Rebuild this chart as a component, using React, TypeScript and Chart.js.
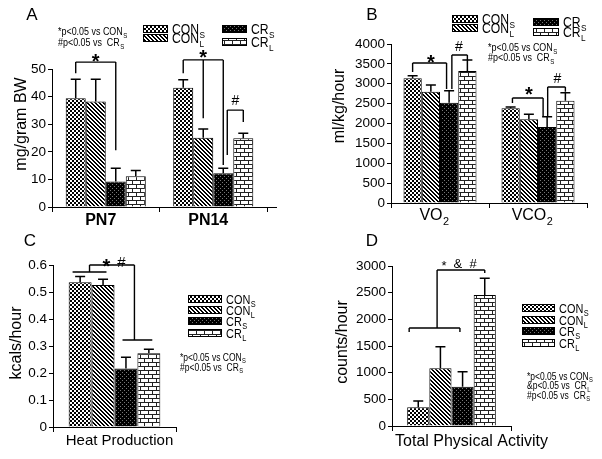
import React, { useEffect, useRef } from 'react';
import { Chart, registerables } from 'chart.js';

Chart.register(...registerables);

const FONT = "'Liberation Sans', Arial, Helvetica, sans-serif";

// ---------- series (legend) ----------
const SERIES_MAIN = ['CON', 'CON', 'CR', 'CR'];
const SERIES_SUB = ['S', 'L', 'S', 'L'];

// ---------- Panel A ----------
const A_CATEGORIES = ['PN7', 'PN14'];
const A_CON_S = [39.4, 43.2];
const A_CON_L = [38.2, 25.1];
const A_CR_S = [9.2, 12.2];
const A_CR_L = [11.1, 24.9];
const A_SEM_CON_S = [6.9, 2.9];
const A_SEM_CON_L = [8.1, 3.2];
const A_SEM_CR_S = [4.8, 1.8];
const A_SEM_CR_L = [2.1, 1.8];
const A_Y_TICKS = [0, 10, 20, 30, 40, 50];
// brackets: [category, barPos1, value1, barPos2, value2]
const A_BRACKETS = [
  [0, 0, 48.5, 0, 52.5], [0, 0, 52.5, 2, 52.5], [0, 2, 52.5, 2, 20.6],
  [1, 0, 48.5, 0, 53.3], [1, 0, 53.3, 2, 53.3], [1, 1, 53.3, 1, 32.2], [1, 2, 53.3, 2, 15.2],
  [1, 2.2, 18.8, 2.2, 35.1], [1, 2.2, 35.1, 3, 35.1], [1, 3, 35.1, 3, 30.8],
];
const A_MARKS: [number, number, number, string][] = [
  [0, 1, 54.3, '*'], [1, 1, 55.8, '*'], [1, 2.6, 38.8, '#'],
];

// ---------- Panel B ----------
const B_CATEGORIES = ['VO', 'VCO'];
const B_CATEGORY_SUB = '2';
const B_CON_S = [3137, 2382];
const B_CON_L = [2800, 2105];
const B_CR_S = [2523, 1912];
const B_CR_L = [3321, 2574];
const B_SEM_CON_S = [66, 30];
const B_SEM_CON_L = [169, 126];
const B_SEM_CR_S = [303, 260];
const B_SEM_CR_L = [276, 201];
const B_Y_TICKS = [0, 500, 1000, 1500, 2000, 2500, 3000, 3500, 4000];
const B_BRACKETS = [
  [0, 0, 3296, 0, 3522], [0, 0, 3522, 1.86, 3522], [0, 1.86, 3522, 1.86, 2870],
  [0, 2.15, 2870, 2.15, 3723], [0, 2.15, 3723, 3, 3723], [0, 3, 3723, 3, 3600],
  [1, 0.1, 2516, 0.1, 2641], [1, 0.1, 2641, 1.78, 2641], [1, 1.78, 2641, 1.78, 2180],
  [1, 2.03, 2180, 2.03, 2918], [1, 2.03, 2918, 3, 2918], [1, 3, 2918, 3, 2800],
];
const B_MARKS: [number, number, number, string][] = [
  [0, 1.0, 3648, '*'], [0, 2.53, 3950, '#'], [1, 1.0, 2843, '*'], [1, 2.56, 3145, '#'],
];

// ---------- Panel C ----------
const C_CATEGORIES = ['Heat Production'];
const C_CON_S = [0.536];
const C_CON_L = [0.526];
const C_CR_S = [0.217];
const C_CR_L = [0.273];
const C_SEM_CON_S = [0.021];
const C_SEM_CON_L = [0.021];
const C_SEM_CR_S = [0.041];
const C_SEM_CR_L = [0.015];
const C_Y_TICKS = [0, 0.1, 0.2, 0.3, 0.4, 0.5, 0.6];
const C_BRACKETS = [
  [0, -0.33, 0.574, 1.15, 0.574], [0, 0.41, 0.574, 0.41, 0.6], [0, 0.41, 0.6, 2.37, 0.6],
  [0, 2.37, 0.6, 2.37, 0.322], [0, 1.85, 0.322, 3.15, 0.322],
];
const C_MARKS: [number, number, number, string][] = [
  [0, 1.15, 0.611, '*'], [0, 1.8, 0.611, '#'],
];

// ---------- Panel D ----------
const D_CATEGORIES = ['Total Physical Activity'];
const D_CON_S = [350];
const D_CON_L = [1082];
const D_CR_S = [737];
const D_CR_L = [2456];
const D_SEM_CON_S = [119];
const D_SEM_CON_L = [405];
const D_SEM_CR_S = [281];
const D_SEM_CR_L = [313];
const D_Y_TICKS = [0, 500, 1000, 1500, 2000, 2500, 3000];
const D_BRACKETS = [
  [0, 0.85, 2925, 3, 2925], [0, 3, 2925, 3, 2870], [0, 0.85, 2925, 0.85, 1838],
  [0, -0.41, 1838, 1.88, 1838], [0, -0.41, 1838, -0.41, 1763], [0, 1.88, 1838, 1.88, 1763],
];
const D_MARKS: [number, number, number, string][] = [
  [0, 1.16, 3056, '*'], [0, 1.79, 3056, '&'], [0, 2.47, 3056, '#'],
];

interface Panel {
  left: number; top: number; width: number; height: number;
  area: [number, number, number, number];
  categories: string[]; catSub: string; catWeight: string; catSize: number; catDx: number; catY: number;
  values: number[][]; sems: number[][]; yTicks: number[];
  yTitle: string; yTitlePos: [number, number]; yTitleSize: number;
  letter: string; letterPos: [number, number];
  brackets: number[][]; marks: [number, number, number, string][]; starSize: number; markSize: number;
  legend: [number, number, number][]; legendBox: [number, number]; legendSize: number;
  stats: [string, string][]; statsPos: [number, number, number]; statsSize: number;
  axisExtend: number;
}

const PANELS: Panel[] = [
  {
    left: 0, top: 0, width: 300, height: 230, area: [52, 69, 267, 207],
    categories: A_CATEGORIES, catSub: '', catWeight: 'bold', catSize: 16, catDx: -5, catY: 219,
    values: [A_CON_S, A_CON_L, A_CR_S, A_CR_L], sems: [A_SEM_CON_S, A_SEM_CON_L, A_SEM_CR_S, A_SEM_CR_L],
    yTicks: A_Y_TICKS, yTitle: 'mg/gram BW', yTitlePos: [22, 124], yTitleSize: 16,
    letter: 'A', letterPos: [32, 15],
    brackets: A_BRACKETS, marks: A_MARKS, starSize: 20, markSize: 14,
    legend: [[0, 143, 25], [1, 143, 34], [2, 222, 25], [3, 222, 38]], legendBox: [25, 8], legendSize: 14.5,
    stats: [['*p<0.05 vs CON', 'S'], ['#p<0.05 vs  CR', 'S']], statsPos: [58, 31, 11], statsSize: 10.5,
    axisExtend: 10,
  },
  {
    left: 300, top: 0, width: 302, height: 230, area: [91, 44, 287, 203],
    categories: B_CATEGORIES, catSub: B_CATEGORY_SUB, catWeight: 'normal', catSize: 16, catDx: -6, catY: 214,
    values: [B_CON_S, B_CON_L, B_CR_S, B_CR_L], sems: [B_SEM_CON_S, B_SEM_CON_L, B_SEM_CR_S, B_SEM_CR_L],
    yTicks: B_Y_TICKS, yTitle: 'ml/kg/hour', yTitlePos: [40, 106], yTitleSize: 16,
    letter: 'B', letterPos: [72, 15],
    brackets: B_BRACKETS, marks: B_MARKS, starSize: 20, markSize: 14,
    legend: [[0, 152, 15], [1, 152, 24], [2, 233, 18], [3, 233, 28]], legendBox: [26, 8], legendSize: 14.5,
    stats: [['*p<0.05 vs CON', 'S'], ['#p<0.05 vs  CR', 'S']], statsPos: [188, 47, 10], statsSize: 10.5,
    axisExtend: 0,
  },
  {
    left: 0, top: 230, width: 300, height: 229, area: [53, 35, 176, 197],
    categories: C_CATEGORIES, catSub: '', catWeight: 'normal', catSize: 15, catDx: 5, catY: 210,
    values: [C_CON_S, C_CON_L, C_CR_S, C_CR_L], sems: [C_SEM_CON_S, C_SEM_CON_L, C_SEM_CR_S, C_SEM_CR_L],
    yTicks: C_Y_TICKS, yTitle: 'kcals/hour', yTitlePos: [17, 113], yTitleSize: 16,
    letter: 'C', letterPos: [30, 11],
    brackets: C_BRACKETS, marks: C_MARKS, starSize: 20, markSize: 15,
    legend: [[0, 188, 65], [1, 188, 76], [2, 188, 87], [3, 188, 99]], legendBox: [34, 8], legendSize: 13,
    stats: [['*p<0.05 vs CON', 'S'], ['#p<0.05 vs  CR', 'S']], statsPos: [180, 127, 10], statsSize: 10,
    axisExtend: 0,
  },
  {
    left: 300, top: 230, width: 302, height: 229, area: [92, 36, 211, 196],
    categories: D_CATEGORIES, catSub: '', catWeight: 'normal', catSize: 16, catDx: 20, catY: 210,
    values: [D_CON_S, D_CON_L, D_CR_S, D_CR_L], sems: [D_SEM_CON_S, D_SEM_CON_L, D_SEM_CR_S, D_SEM_CR_L],
    yTicks: D_Y_TICKS, yTitle: 'counts/hour', yTitlePos: [43, 112], yTitleSize: 16,
    letter: 'D', letterPos: [72, 11],
    brackets: D_BRACKETS, marks: D_MARKS, starSize: 13, markSize: 13,
    legend: [[0, 222, 74], [1, 222, 86], [2, 222, 97], [3, 222, 109]], legendBox: [33, 8], legendSize: 13,
    stats: [['*p<0.05 vs CON', 'S'], ['&p<0.05 vs  CR', 'L'], ['#p<0.05 vs  CR', 'S']], statsPos: [227, 146, 9.5], statsSize: 10,
    axisExtend: 0,
  },
];

function makePatterns(): CanvasPattern[] {
  const mk = (w: number, h: number, draw: (x: CanvasRenderingContext2D) => void) => {
    const c = document.createElement('canvas');
    c.width = w; c.height = h;
    const x = c.getContext('2d')!;
    x.fillStyle = '#fff'; x.fillRect(0, 0, w, h);
    draw(x);
    return x.createPattern(c, 'repeat')!;
  };
  const checker = mk(4, 4, (x) => { x.fillStyle = '#000'; x.fillRect(0, 0, 2, 2); x.fillRect(2, 2, 2, 2); });
  const stripes = mk(4, 4, (x) => {
    x.fillStyle = '#000';
    for (let i = 0; i < 4; i++) { x.fillRect(i, i, 1, 1); x.fillRect((i + 1) % 4, i, 1, 1); }
  });
  const dark = mk(4, 4, (x) => {
    x.fillStyle = '#000'; x.fillRect(0, 0, 4, 4);
    x.fillStyle = '#777'; x.fillRect(0, 0, 1, 1); x.fillRect(2, 2, 1, 1);
  });
  const brick = mk(8, 8, (x) => {
    x.fillStyle = '#222';
    x.fillRect(0, 0, 8, 1); x.fillRect(0, 4, 8, 1); x.fillRect(0, 0, 1, 4); x.fillRect(4, 4, 1, 4);
  });
  return [checker, stripes, dark, brick];
}

function subText(ctx: CanvasRenderingContext2D, x: number, base: number, main: string, sub: string,
  size: number, align: 'left' | 'center', cond: number, weight = 'normal', subDy = 0.28) {
  ctx.save();
  const mf = `${weight} ${size}px ${FONT}`;
  const sf = `${weight} ${size * 0.68}px ${FONT}`;
  ctx.font = mf;
  const mw = ctx.measureText(main).width;
  ctx.font = sf;
  const sw = sub ? ctx.measureText(sub).width : 0;
  const total = (mw + sw) * cond;
  const x0 = align === 'center' ? x - total / 2 : x;
  ctx.translate(x0, base);
  ctx.scale(cond, 1);
  ctx.textAlign = 'left';
  ctx.textBaseline = 'alphabetic';
  ctx.fillStyle = '#000';
  ctx.font = mf;
  ctx.fillText(main, 0, 0);
  if (sub) { ctx.font = sf; ctx.fillText(sub, mw + 0.5, size * subDy); }
  ctx.restore();
}

function decorate(chart: Chart, p: Panel, pats: CanvasPattern[]) {
  const ctx = chart.ctx;
  const ys: any = chart.scales.y;
  const xs: any = chart.scales.x;
  const m0: any[] = chart.getDatasetMeta(0).data as any;
  const m1: any[] = chart.getDatasetMeta(1).data as any;
  const xAt = (cat: number, d: number) => m0[cat].x + d * (m1[cat].x - m0[cat].x);
  ctx.save();
  ctx.strokeStyle = '#000';
  ctx.fillStyle = '#000';

  // error bars
  ctx.lineWidth = 1.5;
  p.values.forEach((vals, i) => {
    const meta = chart.getDatasetMeta(i);
    vals.forEach((v, j) => {
      const el: any = meta.data[j];
      const yt = ys.getPixelForValue(v + p.sems[i][j]);
      ctx.beginPath();
      ctx.moveTo(el.x, el.y);
      ctx.lineTo(el.x, yt);
      ctx.moveTo(el.x - 5, yt);
      ctx.lineTo(el.x + 5, yt);
      ctx.stroke();
    });
  });

  // significance brackets
  ctx.lineWidth = 1.4;
  ctx.beginPath();
  for (const [c, d1, v1, d2, v2] of p.brackets) {
    ctx.moveTo(xAt(c, d1), ys.getPixelForValue(v1));
    ctx.lineTo(xAt(c, d2), ys.getPixelForValue(v2));
  }
  ctx.stroke();
  ctx.textAlign = 'center';
  ctx.textBaseline = 'alphabetic';
  for (const [c, d, v, t] of p.marks) {
    const isStar = t === '*';
    const size = isStar ? p.starSize : p.markSize;
    ctx.font = `${isStar && size > 16 ? 'bold ' : ''}${size}px ${FONT}`;
    const yc = ys.getPixelForValue(v);
    ctx.fillText(t, xAt(c, d), yc + (isStar ? 0.55 : 0.36) * size);
  }

  // x axis extension
  if (p.axisExtend) {
    const ca = chart.chartArea;
    ctx.lineWidth = 1;
    ctx.beginPath();
    ctx.moveTo(ca.right, ca.bottom + 0.5);
    ctx.lineTo(ca.right + p.axisExtend, ca.bottom + 0.5);
    ctx.stroke();
  }

  // category labels
  p.categories.forEach((c, i) => {
    const x = xs.getPixelForValue(i) + p.catDx;
    subText(ctx, x, p.catY + 0.36 * p.catSize, c, p.catSub, p.catSize, 'center', 1, p.catWeight, 0.3);
  });

  // y title
  ctx.save();
  ctx.translate(p.yTitlePos[0], p.yTitlePos[1]);
  ctx.rotate(-Math.PI / 2);
  ctx.font = `${p.yTitleSize}px ${FONT}`;
  ctx.textAlign = 'center';
  ctx.textBaseline = 'middle';
  ctx.fillStyle = '#000';
  ctx.fillText(p.yTitle, 0, 0);
  ctx.restore();

  // panel letter
  ctx.font = `17px ${FONT}`;
  ctx.textAlign = 'center';
  ctx.textBaseline = 'middle';
  ctx.fillText(p.letter, p.letterPos[0], p.letterPos[1]);

  // legend
  const [bw, bh] = p.legendBox;
  for (const [i, x, y] of p.legend) {
    ctx.fillStyle = pats[i];
    ctx.fillRect(x, y, bw, bh);
    ctx.lineWidth = 1;
    ctx.strokeStyle = '#000';
    ctx.strokeRect(x + 0.5, y + 0.5, bw - 1, bh - 1);
    subText(ctx, x + bw + 4, y + bh / 2 + 0.36 * p.legendSize, SERIES_MAIN[i], SERIES_SUB[i], p.legendSize, 'left', 0.84);
  }

  // stats notes
  const [sx, sy, sdy] = p.statsPos;
  p.stats.forEach(([m, s], k) => {
    subText(ctx, sx, sy + k * sdy + 0.36 * p.statsSize, m, s, p.statsSize, 'left', 0.85);
  });
  ctx.restore();
}

function PanelChart({ p, pats }: { p: Panel; pats: CanvasPattern[] | null }) {
  const ref = useRef<HTMLCanvasElement>(null);
  useEffect(() => {
    if (!ref.current || !pats) return;
    const [l, t, r, b] = p.area;
    const ticks = p.yTicks;
    const chart = new Chart(ref.current, {
      type: 'bar',
      data: {
        labels: p.catSub ? p.categories.map((c) => c + p.catSub) : p.categories,
        datasets: p.values.map((vals, i) => ({
          label: SERIES_MAIN[i] + SERIES_SUB[i],
          data: vals,
          backgroundColor: pats[i],
          borderColor: '#000',
          borderWidth: 1,
          barPercentage: 1,
          categoryPercentage: 0.745,
        })),
      },
      options: {
        animation: false,
        responsive: false,
        devicePixelRatio: 1,
        layout: { padding: { left: 0, top: t, right: p.width - r, bottom: 0 } },
        plugins: { legend: { display: false }, tooltip: { enabled: false }, title: { display: false } },
        scales: {
          x: {
            ticks: { display: false },
            grid: { drawOnChartArea: false, tickLength: 5, color: '#000', offset: true },
            border: { color: '#000', width: 1 },
            afterFit: (s: any) => { s.height = p.height - b; },
          },
          y: {
            min: ticks[0],
            max: ticks[ticks.length - 1],
            ticks: {
              stepSize: ticks[1] - ticks[0],
              color: '#000',
              padding: 2,
              font: { size: 13.5, family: FONT },
              callback: (v: any) => String(Math.round(Number(v) * 1000) / 1000),
            },
            grid: { drawOnChartArea: false, tickLength: 4, color: '#000' },
            border: { color: '#000', width: 1 },
            afterFit: (s: any) => { s.width = l; },
          },
        },
      },
      plugins: [{ id: 'deco', afterDraw: (c: Chart) => decorate(c, p, pats) }],
    } as any);
    return () => chart.destroy();
  }, [p, pats]);
  return (
    <canvas
      ref={ref}
      width={p.width}
      height={p.height}
      style={{ position: 'absolute', left: p.left, top: p.top, width: p.width, height: p.height }}
    />
  );
}

export default function App() {
  const [pats, setPats] = React.useState<CanvasPattern[] | null>(null);
  useEffect(() => { setPats(makePatterns()); }, []);
  return (
    <div style={{ position: 'absolute', left: 0, top: 0, width: 602, height: 459, background: '#fff' }}>
      {PANELS.map((p, i) => <PanelChart key={i} p={p} pats={pats} />)}
    </div>
  );
}
